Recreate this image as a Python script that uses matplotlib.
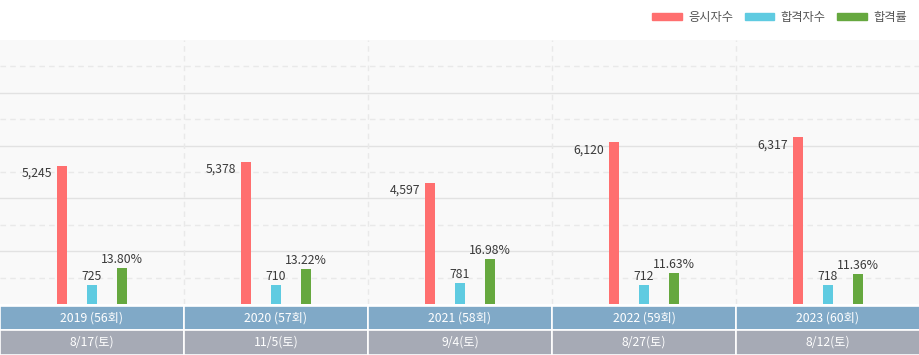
import matplotlib
matplotlib.use('Agg')
import matplotlib.pyplot as plt
from matplotlib.patches import Patch, Rectangle

plt.rcParams['font.family'] = ['Noto Sans CJK KR', 'DejaVu Sans']

# data
years = ['2019 (56회)', '2020 (57회)', '2021 (58회)', '2022 (59회)', '2023 (60회)']
dates = ['8/17(토)', '11/5(토)', '9/4(토)', '8/27(토)', '8/12(토)']
applicants = [5245, 5378, 4597, 6120, 6317]
passed = [725, 710, 781, 712, 718]
pass_rate = [13.80, 13.22, 16.98, 11.63, 11.36]

RED = '#ff6f6f'
BLUE = '#5fcbe1'
GREEN = '#66a83f'
W, H = 920, 355

fig = plt.figure(figsize=(W / 100, H / 100), dpi=100)
fig.patch.set_facecolor('white')

# main plot area (pixels: top 40, bottom 304)
ax = fig.add_axes([0, (H - 304) / H, 1, 264 / H])
ax.set_facecolor('#f9f9f9')
ax.set_xlim(0, 5)
ax.set_ylim(0, 10000)
ax2 = ax.twinx()
ax2.set_ylim(0, 100)

for y in range(1000, 10000, 1000):
    if y % 2000 == 0:
        ax.axhline(y, color='#e2e2e2', lw=1, zorder=0)
    else:
        ax.axhline(y, color='#e9e9e9', lw=1, ls=(0, (4, 3)), zorder=0)
for k in range(1, 5):
    ax.axvline(k, color='#e9e9e9', lw=1, ls=(0, (4, 3)), zorder=0)

off = 30 / 184
bw = 10 / 184
x = [i + 0.5 for i in range(len(years))]

ax.bar([v - off for v in x], applicants, width=bw, color=RED, zorder=3)
ax.bar(x, passed, width=bw, color=BLUE, zorder=3)
ax2.bar([v + off for v in x], pass_rate, width=bw, color=GREEN, zorder=3)

lbl = dict(fontsize=8.8, color='#3a3a3a', textcoords='offset pixels')
for xi, a, p, r in zip(x, applicants, passed, pass_rate):
    ax.annotate(f'{a:,}', xy=(xi - off - bw / 2, a), xytext=(-5, -1),
                ha='right', va='top', **lbl)
    ax.annotate(f'{p}', xy=(xi, p), xytext=(0, 2), ha='center', va='bottom', **lbl)
    ax2.annotate(f'{r:.2f}%', xy=(xi + off, r), xytext=(0, 2),
                 ha='center', va='bottom', **lbl)

for a in (ax, ax2):
    a.set_xticks([])
    a.set_yticks([])
    for s in a.spines.values():
        s.set_visible(False)

# header bands below the chart
band = fig.add_axes([0, 0, 1, 49 / H])
band.set_xlim(0, 5)
band.set_ylim(0, 49)
band.axis('off')
for i in range(len(years)):
    band.add_patch(Rectangle((i, 25), 1, 24, facecolor='#80a9c7',
                             edgecolor='white', lw=1.2))
    band.add_patch(Rectangle((i, 0), 1, 25, facecolor='#a6aab5',
                             edgecolor='white', lw=1.2))
    band.text(i + 0.5, 37, years[i], color='white', fontsize=8.8,
              ha='center', va='center')
    band.text(i + 0.5, 12.5, dates[i], color='white', fontsize=8.8,
              ha='center', va='center')

# legend
handles = [Patch(color=RED, label='응시자수'),
           Patch(color=BLUE, label='합격자수'),
           Patch(color=GREEN, label='합격률')]
leg = fig.legend(handles=handles, loc='upper right', ncol=3, frameon=False,
                 bbox_to_anchor=(907 / W, 1 - 11 / H), fontsize=8.8,
                 handlelength=2.45, handleheight=0.55, handletextpad=0.5,
                 columnspacing=0.95, borderpad=0, borderaxespad=0)
for t in leg.get_texts():
    t.set_color('#555555')

plt.savefig('out.png', dpi=100)
